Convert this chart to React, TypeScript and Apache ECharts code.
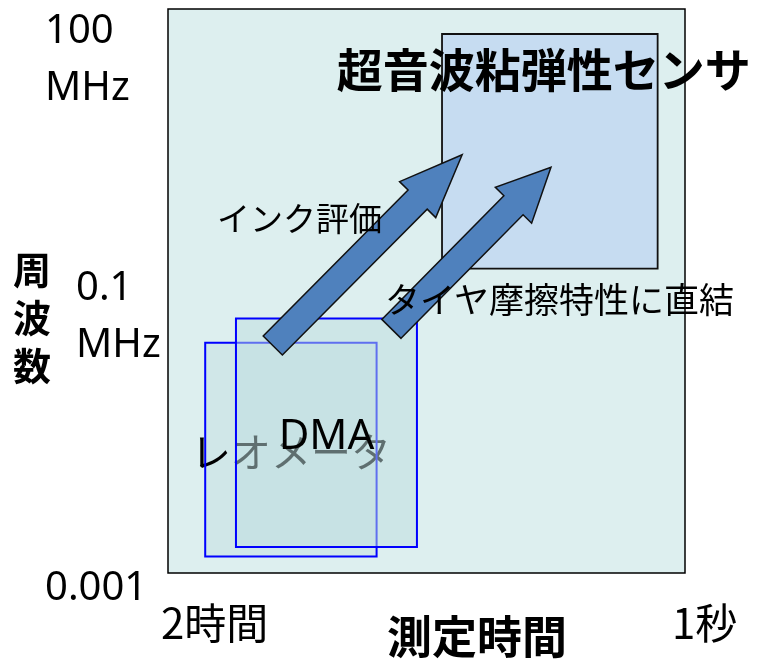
import React, { useEffect, useRef } from 'react';
import * as echarts from 'echarts';

// Axis ranges: measurement time [s] (log, long on the left), frequency [MHz] (log)
const timeRange = [1, 7200];
const freqRange = [0.001, 100];

// Measurement-method regions: time span [s] and frequency span [MHz]
const boxNames = ['レオメータ', 'DMA', '超音波粘弾性センサ'];
const boxTimeLong = [3800, 2240, 65];
const boxTimeShort = [200, 100, 1.6];
const boxFreqLow = [0.0014, 0.0017, 0.5];
const boxFreqHigh = [0.11, 0.18, 60];

// Arrows from the conventional methods toward the ultrasonic sensor
const arrowNames = ['インク評価', 'タイヤ摩擦特性に直結'];
const arrowTailTime = [1190, 155];
const arrowTailFreq = [0.104, 0.146];
const arrowTipTime = [46, 10];
const arrowTipFreq = [5.1, 3.95];

// Tick labels
const yTickValues = [100, 0.1, 0.001];
const yTickLabels = ['100\nMHz', '0.1\nMHz', '0.001'];
const xTickValues = [7200, 1];
const xTickLabels = ['2時間', '1秒'];
const xAxisTitle = '測定時間';
const yAxisTitle = '周波数';

const CJK = '"Noto Sans CJK JP", "Noto Sans CJK SC", sans-serif';
const LATIN = '"Noto Sans", "DejaVu Sans", sans-serif';

// Drawing order inside each box: fill, then border/text as listed
const boxStyles = [
  { fill: 'rgba(189,221,223,0.4)', stroke: '#0000FF', lineWidth: 2, font: { fontSize: 40, fontFamily: CJK, fontWeight: 'normal' }, dx: 0, mode: 'center', borderOnTop: true },
  { fill: 'rgba(189,221,223,0.5)', stroke: '#0000FF', lineWidth: 2, font: { fontSize: 42, fontFamily: LATIN, fontWeight: 'normal' }, dx: 0, mode: 'center', borderOnTop: true },
  { fill: '#C6DCF1', stroke: '#111111', lineWidth: 1.8, font: { fontSize: 46, fontFamily: CJK, fontWeight: 'bold' }, dx: -6, mode: 'top', borderOnTop: false },
];

const labelStyle = (text: string, x: number, y: number, size: number, family: string, weight = 'normal', align = 'left', lineHeight?: number) => ({
  type: 'text',
  z: 20,
  x,
  y,
  style: {
    text,
    fill: '#000',
    fontSize: size,
    fontFamily: family,
    fontWeight: weight,
    align,
    textAlign: align,
    verticalAlign: 'middle',
    textVerticalAlign: 'middle',
    lineHeight: lineHeight || Math.round(size * 1.2),
  },
});

export default function App() {
  const ref = useRef<HTMLDivElement>(null);

  useEffect(() => {
    if (!ref.current) return;
    const chart = echarts.init(ref.current, null, { renderer: 'svg' });

    const hiddenAxis = {
      logBase: 10,
      axisLine: { show: false },
      axisTick: { show: false },
      axisLabel: { show: false },
      splitLine: { show: false },
    };

    chart.setOption({
      animation: false,
      grid: {
        left: 168,
        top: 9,
        width: 517,
        height: 564,
        show: true,
        backgroundColor: '#DDEFEF',
        borderColor: '#000',
        borderWidth: 1.5,
      },
      xAxis: { type: 'log', min: timeRange[0], max: timeRange[1], inverse: true, ...hiddenAxis },
      yAxis: { type: 'log', min: freqRange[0], max: freqRange[1], ...hiddenAxis },
      series: [
        {
          type: 'custom',
          name: 'boxes',
          z: 2,
          clip: false,
          encode: { x: [0, 1], y: [2, 3] },
          data: boxNames.map((n, i) => ({ name: n, value: [boxTimeLong[i], boxTimeShort[i], boxFreqLow[i], boxFreqHigh[i]] })),
          renderItem: (params: any, api: any) => {
            const i = params.dataIndex;
            const st = boxStyles[i];
            const a = api.coord([api.value(0), api.value(3)]);
            const b = api.coord([api.value(1), api.value(2)]);
            const x = Math.min(a[0], b[0]);
            const y = Math.min(a[1], b[1]);
            const w = Math.abs(b[0] - a[0]);
            const h = Math.abs(b[1] - a[1]);
            const tx = x + w / 2 + st.dx;
            const ty = st.mode === 'top' ? y + 33 : y + h / 2;
            const base = i * 10;
            return {
              type: 'group',
              children: [
                { type: 'rect', z2: base + 1, shape: { x, y, width: w, height: h }, style: { fill: st.fill, stroke: 'none' } },
                {
                  type: 'text',
                  z2: base + 3,
                  style: {
                    text: boxNames[i],
                    x: tx,
                    y: ty,
                    fill: '#000',
                    ...st.font,
                    align: 'center',
                    textAlign: 'center',
                    verticalAlign: 'middle',
                    textVerticalAlign: 'middle',
                  },
                },
                {
                  type: 'rect',
                  z2: base + (st.borderOnTop ? 4 : 2),
                  shape: { x, y, width: w, height: h },
                  style: { fill: 'none', stroke: st.stroke, lineWidth: st.lineWidth },
                },
              ],
            };
          },
        },
        {
          type: 'custom',
          name: 'arrows',
          z: 3,
          clip: false,
          encode: { x: [0, 2], y: [1, 3] },
          data: arrowNames.map((n, i) => ({ name: n, value: [arrowTailTime[i], arrowTailFreq[i], arrowTipTime[i], arrowTipFreq[i]] })),
          renderItem: (params: any, api: any) => {
            const p0 = api.coord([api.value(0), api.value(1)]);
            const p1 = api.coord([api.value(2), api.value(3)]);
            const dx = p1[0] - p0[0];
            const dy = p1[1] - p0[1];
            const len = Math.hypot(dx, dy);
            const ux = dx / len;
            const uy = dy / len;
            const nx = -uy;
            const ny = ux;
            const shaft = 13.5;
            const head = 25.5;
            const headLen = len * 0.235;
            const bx = p1[0] - ux * headLen;
            const by = p1[1] - uy * headLen;
            const points = [
              [p0[0] + nx * shaft, p0[1] + ny * shaft],
              [bx + nx * shaft, by + ny * shaft],
              [bx + nx * head, by + ny * head],
              [p1[0], p1[1]],
              [bx - nx * head, by - ny * head],
              [bx - nx * shaft, by - ny * shaft],
              [p0[0] - nx * shaft, p0[1] - ny * shaft],
            ];
            return {
              type: 'polygon',
              shape: { points },
              style: { fill: '#4F81BD', stroke: '#111111', lineWidth: 1.5 },
            };
          },
        },
      ],
    });

    // Tick labels and titles placed from the axis scales
    const yOffsets = [47, -34, 11];
    const yLeft = [45, 76, 45];
    const xOffsets = [-7, -13];
    const xCenterY = 620;

    const graphics: any[] = [];
    yTickValues.forEach((v, i) => {
      const py = chart.convertToPixel({ yAxisIndex: 0 }, v) as number;
      graphics.push(labelStyle(yTickLabels[i], yLeft[i], py + yOffsets[i], 40, LATIN, 'normal', 'left', 57));
    });
    xTickValues.forEach((v, i) => {
      const px = chart.convertToPixel({ xAxisIndex: 0 }, v) as number;
      graphics.push(labelStyle(xTickLabels[i], px + xOffsets[i], xCenterY, 42, CJK));
    });
    graphics.push(labelStyle(xAxisTitle, 477, 634, 45, CJK, 'bold', 'center', 45));
    graphics.push(labelStyle(yAxisTitle.split('').join('\n'), 32, 315, 38, CJK, 'bold', 'center', 48));
    graphics.push(labelStyle(arrowNames[0], 217, 217, 33, CJK));
    graphics.push(labelStyle(arrowNames[1], 385, 297, 35, CJK));

    chart.setOption({ graphic: graphics });

    return () => chart.dispose();
  }, []);

  return <div ref={ref} style={{ position: 'fixed', left: 0, top: 0, width: 761, height: 661 }} />;
}
